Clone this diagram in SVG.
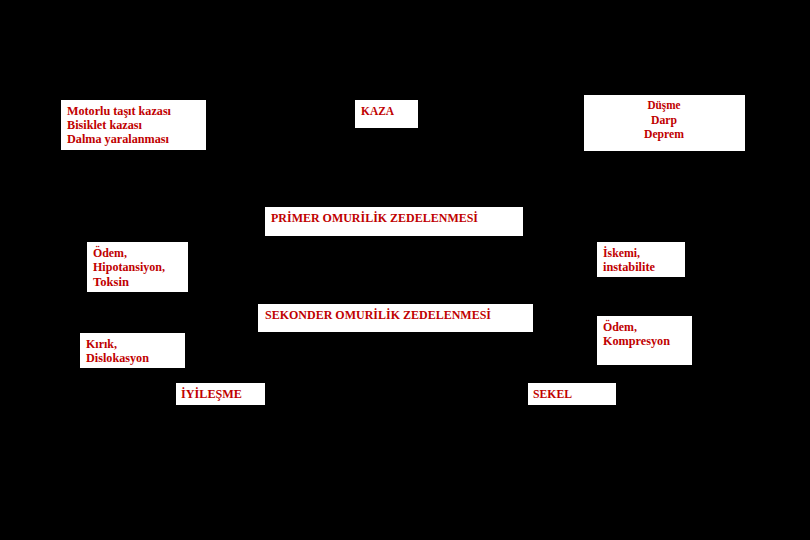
<svg xmlns="http://www.w3.org/2000/svg" width="810" height="540" viewBox="0 0 810 540">
<style>
.bg{fill:#000}
.box{fill:#fff}
.t{font-family:"Liberation Serif","Times New Roman",serif;font-size:13px;font-weight:bold;fill:#c00000}
.c{text-anchor:middle}
</style>
<rect class="bg" x="0" y="0" width="810" height="540"/>
<g id="connectors"></g>
<g id="node-nedenler1">
<rect class="box" x="61" y="100" width="145" height="50"/>
<text class="t" x="67" y="115" textLength="104" lengthAdjust="spacingAndGlyphs">Motorlu taşıt kazası</text>
<text class="t" x="67" y="129" textLength="75" lengthAdjust="spacingAndGlyphs">Bisiklet kazası</text>
<text class="t" x="67" y="143" textLength="102" lengthAdjust="spacingAndGlyphs">Dalma yaralanması</text>
</g>
<g id="node-kaza">
<rect class="box" x="355" y="100" width="63" height="28"/>
<text class="t" x="361" y="115" textLength="33" lengthAdjust="spacingAndGlyphs">KAZA</text>
</g>
<g id="node-nedenler2">
<rect class="box" x="584" y="95" width="161" height="56"/>
<text class="t c" x="664" y="109" textLength="33" lengthAdjust="spacingAndGlyphs">Düşme</text>
<text class="t c" x="664" y="124" textLength="26" lengthAdjust="spacingAndGlyphs">Darp</text>
<text class="t c" x="664" y="138" textLength="40" lengthAdjust="spacingAndGlyphs">Deprem</text>
</g>
<g id="node-primer">
<rect class="box" x="265" y="207" width="258" height="29"/>
<text class="t" x="271" y="222" textLength="207" lengthAdjust="spacingAndGlyphs">PRİMER OMURİLİK ZEDELENMESİ</text>
</g>
<g id="node-odem1">
<rect class="box" x="87" y="242" width="101" height="50"/>
<text class="t" x="93" y="257" textLength="34" lengthAdjust="spacingAndGlyphs">Ödem,</text>
<text class="t" x="93" y="271" textLength="72" lengthAdjust="spacingAndGlyphs">Hipotansiyon,</text>
<text class="t" x="93" y="286" textLength="36" lengthAdjust="spacingAndGlyphs">Toksin</text>
</g>
<g id="node-iskemi">
<rect class="box" x="597" y="242" width="88" height="35"/>
<text class="t" x="603" y="257" textLength="37" lengthAdjust="spacingAndGlyphs">İskemi,</text>
<text class="t" x="603" y="271" textLength="52" lengthAdjust="spacingAndGlyphs">instabilite</text>
</g>
<g id="node-sekonder">
<rect class="box" x="258" y="304" width="275" height="28"/>
<text class="t" x="265" y="319" textLength="226" lengthAdjust="spacingAndGlyphs">SEKONDER OMURİLİK ZEDELENMESİ</text>
</g>
<g id="node-kirik">
<rect class="box" x="80" y="333" width="105" height="35"/>
<text class="t" x="86" y="348" textLength="31" lengthAdjust="spacingAndGlyphs">Kırık,</text>
<text class="t" x="86" y="362" textLength="63" lengthAdjust="spacingAndGlyphs">Dislokasyon</text>
</g>
<g id="node-odem2">
<rect class="box" x="597" y="316" width="95" height="49"/>
<text class="t" x="603" y="331" textLength="34" lengthAdjust="spacingAndGlyphs">Ödem,</text>
<text class="t" x="603" y="345" textLength="67" lengthAdjust="spacingAndGlyphs">Kompresyon</text>
</g>
<g id="node-iyilesme">
<rect class="box" x="176" y="383" width="89" height="22"/>
<text class="t" x="181" y="398" textLength="61" lengthAdjust="spacingAndGlyphs">İYİLEŞME</text>
</g>
<g id="node-sekel">
<rect class="box" x="528" y="383" width="88" height="22"/>
<text class="t" x="533" y="398" textLength="39" lengthAdjust="spacingAndGlyphs">SEKEL</text>
</g>
</svg>
